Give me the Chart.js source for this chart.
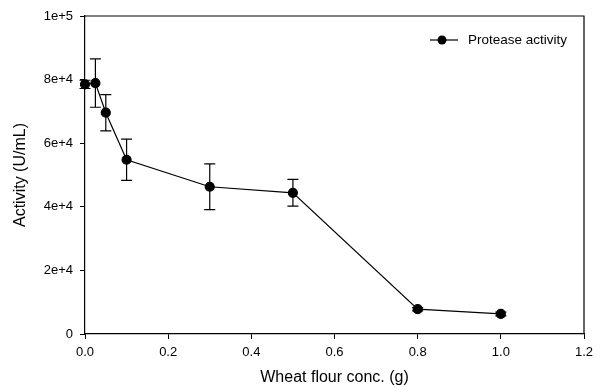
<!DOCTYPE html>
<html>
<head>
<meta charset="utf-8">
<script src="https://cdn.jsdelivr.net/npm/chart.js@4/dist/chart.umd.min.js"></script>
<style>
html,body{margin:0;padding:0;background:#fff;}
#wrap{width:601px;height:387px;position:relative;}
</style>
</head>
<body>
<div id="wrap"><canvas id="c" width="601" height="387"></canvas></div>
<script>
const flourConc = [0, 0.025, 0.05, 0.1, 0.3, 0.5, 0.8, 1.0];
const activity = [78500, 78900, 69600, 54800, 46300, 44400, 7800, 6300];
const activityErr = [1300, 7600, 5700, 6500, 7200, 4200, 500, 600];
const xTicks = [0, 0.2, 0.4, 0.6, 0.8, 1.0, 1.2];
const yTicks = [0, 20000, 40000, 60000, 80000, 100000];
const yTickLabels = ["0", "2e+4", "4e+4", "6e+4", "8e+4", "1e+5"];
const seriesName = "Protease activity";
const xTitle = "Wheat flour conc. (g)";
const yTitle = "Activity (U/mL)";

const FONT = "'Liberation Sans', Arial, sans-serif";

const errorBars = {
  id: 'errorBars',
  afterDatasetsDraw(chart) {
    const ctx = chart.ctx, xs = chart.scales.x, ys = chart.scales.y;
    ctx.save();
    ctx.strokeStyle = '#000';
    ctx.lineWidth = 1.2;
    flourConc.forEach((x, i) => {
      const px = xs.getPixelForValue(x);
      const top = ys.getPixelForValue(activity[i] + activityErr[i]);
      const bot = ys.getPixelForValue(activity[i] - activityErr[i]);
      ctx.beginPath();
      ctx.moveTo(px, top); ctx.lineTo(px, bot);
      ctx.moveTo(px - 5.5, top); ctx.lineTo(px + 5.5, top);
      ctx.moveTo(px - 5.5, bot); ctx.lineTo(px + 5.5, bot);
      ctx.stroke();
    });
    ctx.restore();
  }
};

const frame = {
  id: 'frame',
  afterDraw(chart) {
    const {ctx, chartArea: a} = chart;
    ctx.save();
    ctx.strokeStyle = '#000';
    ctx.lineWidth = 1.2;
    ctx.beginPath();
    ctx.moveTo(a.left, a.top); ctx.lineTo(a.right, a.top); ctx.lineTo(a.right, a.bottom);
    ctx.stroke();
    // legend
    const y = a.top + 24;
    ctx.beginPath();
    ctx.moveTo(a.right - 154, y); ctx.lineTo(a.right - 126, y);
    ctx.stroke();
    ctx.fillStyle = '#000';
    ctx.beginPath();
    ctx.arc(a.right - 142, y, 4.5, 0, Math.PI * 2);
    ctx.fill();
    ctx.font = "13.5px " + FONT;
    ctx.textBaseline = 'middle';
    ctx.textAlign = 'left';
    ctx.fillText(seriesName, a.right - 116, y);
    ctx.restore();
  }
};

new Chart(document.getElementById('c'), {
  type: 'scatter',
  data: {
    datasets: [{
      label: seriesName,
      data: flourConc.map((x, i) => ({x: x, y: activity[i]})),
      showLine: true,
      clip: false,
      borderColor: '#000',
      borderWidth: 1.2,
      backgroundColor: '#000',
      pointRadius: 4.5,
      pointHoverRadius: 4.5,
      pointBackgroundColor: '#000',
      pointBorderColor: '#000',
      tension: 0
    }]
  },
  options: {
    responsive: false,
    animation: false,
    layout: {padding: {left: 0, top: 16, right: 17, bottom: 0}},
    plugins: {legend: {display: false}, tooltip: {enabled: false}},
    scales: {
      x: {
        type: 'linear', min: 0, max: 1.2,
        afterBuildTicks(axis) { axis.ticks = xTicks.map(v => ({value: v})); },
        afterFit(axis) { axis.height = 53; },
        border: {display: true, color: '#000', width: 1.2},
        grid: {display: true, drawOnChartArea: false, drawTicks: true, tickLength: 5, color: '#000', lineWidth: 1},
        ticks: {
          color: '#000', font: {family: FONT, size: 13}, padding: 6, maxRotation: 0,
          callback: v => v.toFixed(1)
        },
        title: {display: true, text: xTitle, color: '#000', font: {family: FONT, size: 16}, padding: {top: 0, bottom: 0}}
      },
      y: {
        type: 'linear', min: 0, max: 100000,
        afterBuildTicks(axis) { axis.ticks = yTicks.map(v => ({value: v})); },
        afterFit(axis) { axis.width = 85; },
        border: {display: true, color: '#000', width: 1.2},
        grid: {display: true, drawOnChartArea: false, drawTicks: true, tickLength: 5, color: '#000', lineWidth: 1},
        ticks: {
          color: '#000', font: {family: FONT, size: 13}, padding: 7,
          callback: v => yTickLabels[yTicks.indexOf(v)]
        },
        title: {display: true, text: yTitle, color: '#000', font: {family: FONT, size: 16}, padding: {top: 11, bottom: 0}}
      }
    }
  },
  plugins: [errorBars, frame]
});
</script>
</body>
</html>
